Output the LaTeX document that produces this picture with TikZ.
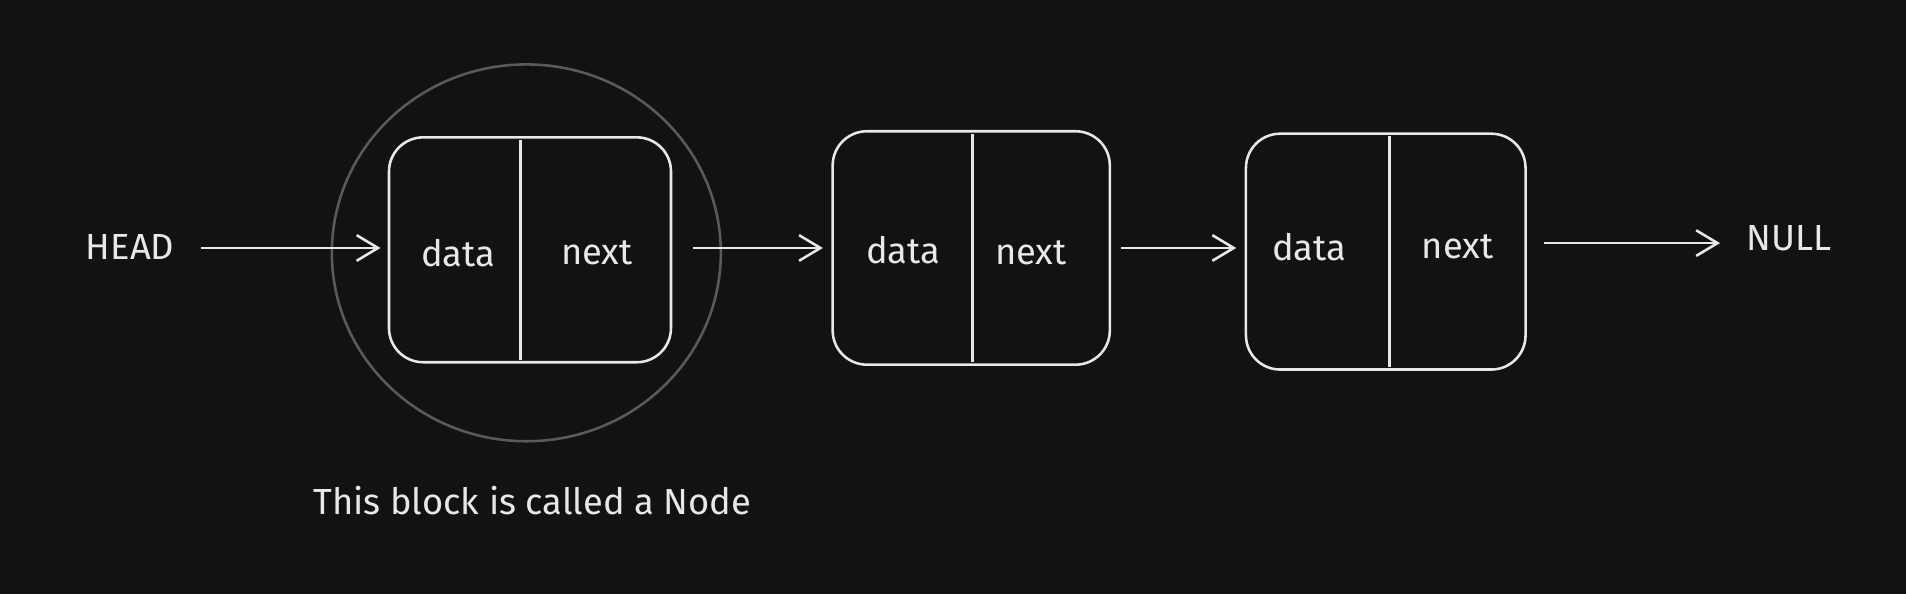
\documentclass[tikz,border=0pt]{standalone}
\usepackage{fontspec}
\setmainfont{Fira Sans}
\usetikzlibrary{arrows.meta}
\definecolor{bgdark}{HTML}{121114}
\definecolor{inkwhite}{HTML}{E8E8E8}
\definecolor{ringgray}{HTML}{5A5A5A}
\tikzset{
  cell/.style={draw=inkwhite,line width=1.2pt,rounded corners=16pt},
  lbl/.style={text=inkwhite,font=\fontsize{17}{20}\selectfont},
  link/.style={draw=inkwhite,line width=1.2pt,-{Straight Barb[length=10pt,width=12pt]}}
}
\begin{document}
\begin{tikzpicture}[x=0.02cm,y=-0.02cm]

  % Background
  \fill[bgdark] (0,0) rectangle (1568,489);

  % Ring around first node
  \draw[ringgray,line width=1.2pt] (433,208) ellipse (160 and 155);

  % Nodes
  \draw[cell] (320,113) rectangle (552,298);
  \draw[inkwhite,line width=1.2pt] (428,115) -- (428,296);
  \draw[cell] (685,108) rectangle (913,300);
  \draw[inkwhite,line width=1.2pt] (800,110) -- (800,298);
  \draw[cell] (1025,110) rectangle (1255,304);
  \draw[inkwhite,line width=1.2pt] (1143,112) -- (1143,302);

  % Labels
  \node[lbl] (head) at (107,203) {HEAD};
  \node[lbl] (d1) at (377,208) {data};
  \node[lbl] (n1) at (491,208) {next};
  \node[lbl] (d2) at (743,206) {data};
  \node[lbl] (n2) at (848,208) {next};
  \node[lbl] (d3) at (1077,203) {data};
  \node[lbl] (n3) at (1199,203) {next};
  \node[lbl] (null) at (1472,196) {NULL};
  \node[lbl] (cap) at (438,412) {This block is called a Node};

  % Links
  \coordinate (h0) at (165,204);
  \coordinate (h1) at (313,204);
  \draw[link] (h0) -- (h1);
  \coordinate (a0) at (570,204);
  \coordinate (a1) at (677,204);
  \draw[link] (a0) -- (a1);
  \coordinate (b0) at (922,204);
  \coordinate (b1) at (1017,204);
  \draw[link] (b0) -- (b1);
  \coordinate (c0) at (1270,200);
  \coordinate (c1) at (1415,200);
  \draw[link] (c0) -- (c1);

\end{tikzpicture}
\end{document}
